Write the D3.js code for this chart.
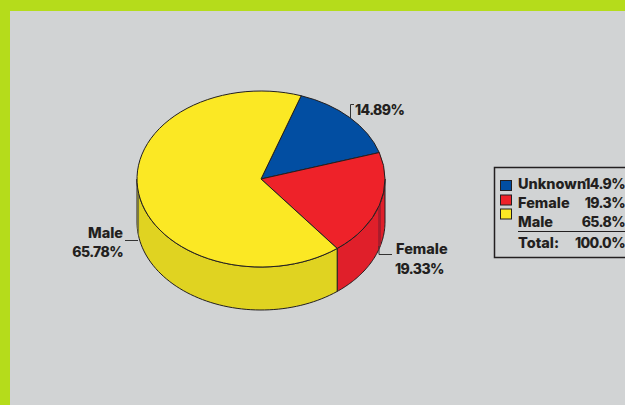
<!DOCTYPE html>
<html><head><meta charset="utf-8">
<script src="https://cdn.jsdelivr.net/npm/d3@7"></script>
<style>html,body{margin:0;padding:0;background:#d1d3d4}svg{display:block}
text{font-family:"Inter","Open Sans",sans-serif;font-weight:800;fill:#231f20;font-size:14.5px}
text.num{font-size:14px;letter-spacing:-.6px}</style>
</head><body><script>
const categories=["Unknown","Female","Male"];
const percents=[14.89,19.33,65.78];
const topColors=["#024ea2","#ee2229","#fbe824"];
const sideColors=["#024ea2","#e01f2a","#e0d321"];
const legendPct=["14.9%","19.3%","65.8%"];
const W=625,H=405,cx=261,cy=179,rx=124,ry=88,depth=43;
const svg=d3.select("body").append("svg").attr("width",W).attr("height",H);
svg.append("rect").attr("width",W).attr("height",H).attr("fill","#b5dc1b");
svg.append("rect").attr("x",10).attr("y",11).attr("width",W-10).attr("height",H-11).attr("fill","#d1d3d4");
const pie=d3.pie().sort(null).startAngle(0.33).endAngle(0.33+2*Math.PI)(percents);
const px=t=>cx+rx*Math.sin(t),py=t=>cy-ry*Math.cos(t);
const wall=d3.area().x(px).y0(py).y1(t=>py(t)+depth);
const samples=(a,b)=>d3.range(61).map(k=>a+(b-a)*k/60);
pie.forEach((p,i)=>{
  const a=Math.max(p.startAngle,Math.PI/2),b=Math.min(p.endAngle,3*Math.PI/2);
  if(b<=a)return;
  svg.append("path").attr("d",wall(samples(a,b))).attr("fill",sideColors[i]).attr("stroke","#231f20").attr("stroke-width",1);
});
svg.append("path").attr("d",wall(samples(1.826,1.906))).attr("fill","#a81c2c");
svg.append("path").attr("d",wall(samples(4.53,4.66))).attr("fill","#7d7a3a");
const arc=d3.arc().innerRadius(0).outerRadius(rx);
svg.append("g").attr("transform",`translate(${cx},${cy}) scale(1,${ry/rx})`)
 .selectAll("path").data(pie).join("path").attr("d",arc)
 .attr("fill",(d,i)=>topColors[i]).attr("stroke","#231f20").attr("stroke-width",1).attr("vector-effect","non-scaling-stroke");
const leader=[[[354,104.5],[350.5,104.5],[350.5,118]],[[392,254.5],[379,254.5],[379,246]],[[125,240.5],[138,240.5]]];
leader.forEach(l=>svg.append("path").attr("d",d3.line()(l)).attr("fill","none").attr("stroke","#333").attr("stroke-width",1));
const labels=[["14.89%",355,115,"start",1],["Female",396,254,"start",0],["19.33%",395,274,"start",1],["Male",123,238,"end",0],["65.78%",123,257,"end",1]];
labels.forEach(l=>svg.append("text").attr("class",l[4]?"num":null).attr("x",l[1]).attr("y",l[2]).attr("text-anchor",l[3]).text(l[0]));
svg.append("rect").attr("x",494.5).attr("y",167.5).attr("width",140).attr("height",90).attr("fill","none").attr("stroke","#231f20").attr("stroke-width",1.5);
categories.forEach((c,i)=>{
  svg.append("rect").attr("x",500.5).attr("y",[180.5,195,209][i]).attr("width",11).attr("height",10).attr("fill",topColors[i]).attr("stroke","#231f20");
  svg.append("text").attr("x",518).attr("y",[189,208,227][i]).text(c);
  svg.append("text").attr("class","num").attr("x",625).attr("y",[189,208,227][i]).attr("text-anchor","end").text(legendPct[i]);
});
svg.append("line").attr("x1",518).attr("x2",625).attr("y1",231.5).attr("y2",231.5).attr("stroke","#231f20");
svg.append("text").attr("x",518).attr("y",248).text("Total:");
svg.append("text").attr("class","num").attr("x",625).attr("y",248).attr("text-anchor","end").text("100.0%");
</script></body></html>
